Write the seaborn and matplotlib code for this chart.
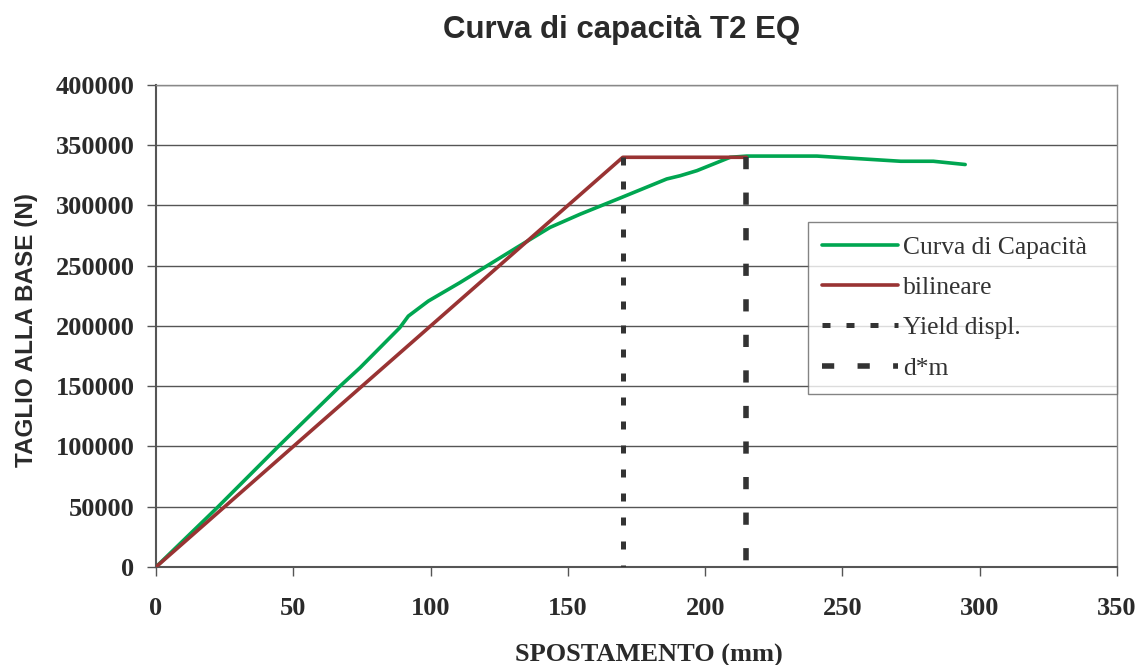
import matplotlib
matplotlib.use("Agg")
import matplotlib.pyplot as plt
import seaborn as sns
import pandas as pd

# Capacity curve (displacement in mm, base shear in N)
curve_disp = [0, 22.1, 45.2, 67.0, 74.3, 88.8, 91.9, 99.2, 110.7, 120.5, 131.4, 143.5,
              154.5, 169.6, 186.0, 190.9, 197.0, 209.1, 215.2, 240.7, 271.2, 283.1, 294.7]
curve_shear = [0, 48800, 101500, 150000, 165300, 198600, 208200, 220700, 236000, 249800,
               265100, 281800, 292800, 306700, 322000, 324700, 328900, 340000, 341000,
               341000, 336700, 336700, 334000]

# Equivalent bilinear system
bilin_disp = [0, 170, 215]
bilin_shear = [0, 340000, 340000]

# Yield displacement and target displacement d*m
yield_disp = 170
dm_disp = 215
plateau_shear = 340000

x_ticks = [0, 50, 100, 150, 200, 250, 300, 350]
y_ticks = [0, 50000, 100000, 150000, 200000, 250000, 300000, 350000, 400000]

sns.set_theme(style="white")
plt.rcParams["font.family"] = ["Liberation Serif", "DejaVu Serif"]

fig = plt.figure(figsize=(11.41, 6.65), dpi=100)
ax = fig.add_axes([0.1367, 0.1474, 0.979 - 0.1367, 0.8722 - 0.1474])

green = "#00a651"
red = "#993333"
dark = "#333333"

df_curve = pd.DataFrame({"d": curve_disp, "V": curve_shear})
df_bilin = pd.DataFrame({"d": bilin_disp, "V": bilin_shear})
df_yield = pd.DataFrame({"d": [yield_disp, yield_disp], "V": [plateau_shear, 0]})
df_dm = pd.DataFrame({"d": [dm_disp, dm_disp], "V": [plateau_shear, 0]})

sns.lineplot(data=df_curve, x="d", y="V", ax=ax, color=green, lw=2.6,
             sort=False, estimator=None, label="Curva di Capacità", zorder=3)
sns.lineplot(data=df_bilin, x="d", y="V", ax=ax, color=red, lw=2.6,
             sort=False, estimator=None, label="bilineare", zorder=4)
sns.lineplot(data=df_yield, x="d", y="V", ax=ax, color=dark, lw=3.6,
             sort=False, estimator=None, label="Yield displ.", zorder=5)
sns.lineplot(data=df_dm, x="d", y="V", ax=ax, color=dark, lw=4.0,
             sort=False, estimator=None, label="d*m", zorder=5)
lines = ax.get_lines()
lines[2].set_dashes([1.6, 3.2])
lines[3].set_dashes([2.2, 4.2])

ax.set_xlim(0, 350)
ax.set_ylim(0, 400000)
ax.set_xticks(x_ticks)
ax.set_yticks(y_ticks)
ax.set_xticklabels([str(v) for v in x_ticks], fontsize=19, fontweight="bold", color="#2a2a2a")
ax.set_yticklabels([str(v) for v in y_ticks], fontsize=19, fontweight="bold", color="#2a2a2a")
ax.yaxis.grid(True, color="#555555", lw=1)
ax.xaxis.grid(False)
ax.tick_params(axis="both", direction="out", length=6.5, width=1, color="#555555",
               bottom=True, left=True)
ax.tick_params(axis="x", pad=15)
ax.tick_params(axis="y", pad=9)
for side in ["left", "bottom"]:
    ax.spines[side].set_color("#555555")
    ax.spines[side].set_linewidth(1.5)
for side in ["top", "right"]:
    ax.spines[side].set_color("#888888")
    ax.spines[side].set_linewidth(1)

ax.set_xlabel("SPOSTAMENTO (mm)", fontsize=19, fontweight="bold", color="#2a2a2a",
              va="center")
ax.xaxis.set_label_coords(0.513, -0.183)
ax.set_ylabel("TAGLIO ALLA BASE (N)", fontsize=17.5, fontweight="bold", color="#2a2a2a",
              family=["Liberation Sans", "DejaVu Sans"], va="center")
ax.yaxis.set_label_coords(-0.135, 0.492)

fig.text(0.545, 0.955, "Curva di capacità T2 EQ", ha="center", va="center",
         fontsize=22.5, fontweight="bold", color="#2a2a2a",
         family=["Liberation Sans", "DejaVu Sans"])

leg = ax.legend(loc="upper left", bbox_to_anchor=(0.678, 0.0, 0.322, 0.716),
                mode="expand", borderaxespad=0, fontsize=18.4,
                frameon=True, fancybox=False, edgecolor="#666666", handlelength=3.0,
                handletextpad=0.2, labelspacing=0.68, borderpad=0.55)
leg.get_frame().set_linewidth(1)
for t in leg.get_texts():
    t.set_color("#333333")

fig.savefig("out.png", dpi=100, facecolor="white")
